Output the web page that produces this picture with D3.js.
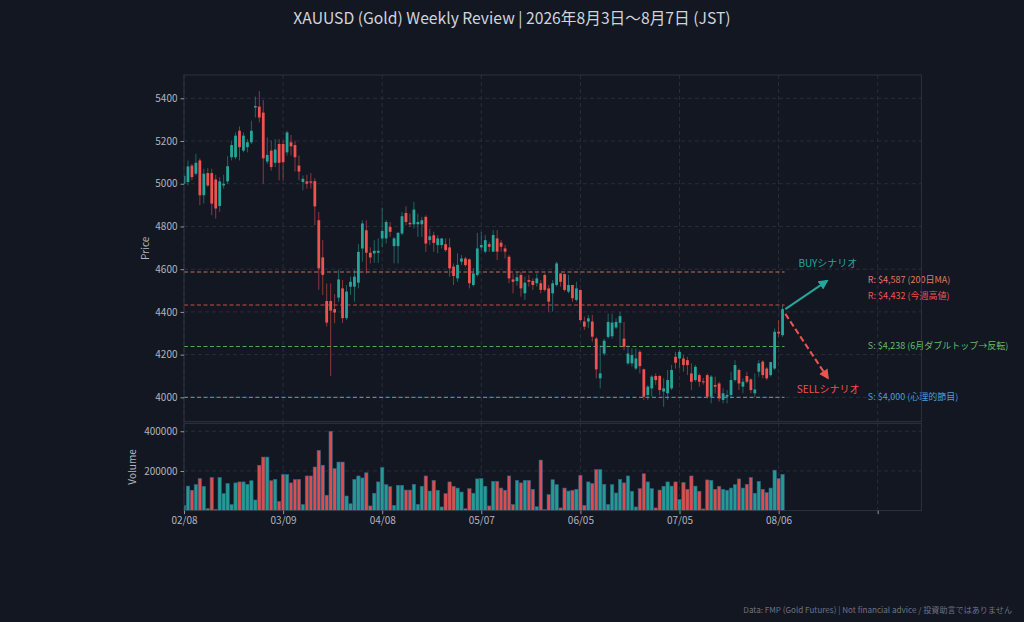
<!DOCTYPE html>
<html>
<head>
<meta charset="utf-8">
<script src="https://cdn.jsdelivr.net/npm/d3@7"></script>
<style>
  html, body { margin: 0; padding: 0; background: #131722; }
  svg text { font-family: "Noto Sans CJK JP", "Noto Sans", sans-serif; }
</style>
</head>
<body>
<div id="chart"></div>
<script>
// daily candles, index 0 = 02/08 ... 151 = 08/07
const opens = [5000,5008,5085,5047,5109,4946,5050,5050,5020,4896,4992,5011,5124,5124,5248,5155,5171,5194,5357,5361,
  5333,5104,5155,5098,5186,5186,5147,5194,5181,5085,5008,5011,5011,5012,4829,4655,4451,4451,4413,4467,
  4510,4371,4518,4518,4537,4697,4782,4677,4674,4677,4744,4744,4798,4708,4708,4767,4863,4817,4810,4810,
  4810,4845,4736,4759,4713,4713,4717,4702,4612,4557,4635,4650,4646,4526,4573,4702,4682,4717,4682,4744,
  4724,4697,4658,4552,4544,4573,4487,4549,4545,4534,4534,4573,4510,4487,4526,4580,4577,4495,4526,4456,
  4503,4355,4355,4355,4275,4089,4205,4283,4286,4327,4349,4275,4159,4159,4135,4213,4131,4011,4042,4100,
  4100,4027,4019,4042,4190,4182,4182,4174,4112,4081,4104,4075,4104,4003,4058,4065,3988,4003,4011,4081,
  4128,4050,4100,4084,4019,4120,4167,4135,4104,4135,4307,4291];
const highs = [5042,5109,5093,5140,5119,5070,5073,5070,5042,5031,5042,5129,5202,5240,5268,5240,5209,5295,5408,5434,
  5392,5217,5202,5209,5209,5202,5248,5228,5202,5132,5039,5042,5050,5026,4868,4736,4533,4533,4484,4596,
  4549,4526,4565,4596,4717,4829,4829,4702,4736,4744,4888,4829,4821,4751,4775,4868,4894,4860,4915,4860,
  4845,4852,4790,4775,4759,4744,4744,4744,4627,4674,4666,4658,4650,4604,4770,4775,4760,4728,4783,4783,
  4736,4713,4666,4580,4588,4588,4565,4573,4557,4580,4549,4580,4526,4549,4635,4580,4580,4573,4526,4541,
  4503,4378,4386,4386,4283,4244,4275,4392,4392,4370,4400,4353,4244,4229,4229,4221,4135,4058,4104,4112,
  4104,4089,4128,4151,4213,4221,4198,4190,4159,4151,4112,4090,4112,4104,4097,4073,4042,4034,4120,4174,
  4135,4089,4120,4089,4112,4174,4174,4143,4167,4322,4361,4432];
const lows = [4995,4992,5016,5039,4899,4907,4985,4853,4837,4868,4977,5000,5109,5115,5109,5147,5147,5186,5310,5287,
  5000,5093,5062,5078,5016,5016,5132,5132,5057,5016,4969,4977,4977,4806,4503,4479,4331,4100,4347,4448,
  4348,4363,4479,4448,4510,4635,4580,4627,4630,4630,4702,4720,4751,4627,4627,4759,4806,4798,4790,4751,
  4751,4681,4713,4681,4674,4697,4681,4565,4526,4541,4619,4611,4510,4518,4565,4689,4674,4682,4682,4643,
  4682,4650,4534,4487,4523,4471,4456,4518,4503,4518,4487,4495,4401,4401,4518,4518,4495,4487,4448,4448,
  4355,4316,4324,4261,4089,4042,4195,4275,4275,4320,4237,4221,4151,4143,4128,4112,3988,3988,4003,4058,
  4011,3956,3988,4034,4135,4135,4120,4104,4034,4073,4050,4060,3995,3972,4019,3980,3972,3972,3995,4073,
  4034,4019,4065,4019,4003,4097,4089,4081,4097,4128,4283,4283];
const closes = [5036,5081,5031,5098,4946,5047,4992,4907,4884,5011,5000,5082,5181,5225,5171,5225,5194,5248,5364,5310,
  5119,5135,5078,5160,5098,5101,5240,5175,5124,5057,5023,5000,5005,4894,4604,4573,4350,4406,4397,4552,
  4371,4495,4541,4565,4681,4814,4677,4655,4686,4686,4779,4821,4775,4744,4770,4848,4821,4810,4879,4821,
  4829,4720,4754,4723,4744,4744,4689,4604,4568,4620,4650,4619,4534,4580,4697,4713,4736,4705,4760,4682,
  4705,4682,4557,4541,4562,4510,4537,4541,4526,4557,4503,4503,4448,4534,4627,4541,4503,4526,4464,4510,
  4362,4331,4370,4284,4131,4112,4265,4353,4350,4353,4380,4237,4205,4198,4182,4146,4003,4050,4097,4081,
  4034,4042,4081,4128,4162,4213,4151,4151,4073,4143,4073,4070,4003,4097,4050,3995,4019,4011,4081,4151,
  4065,4073,4073,4034,4037,4159,4104,4089,4165,4307,4299,4413];
const volumes = [27000,124000,103000,131000,162000,123000,10600,167000,7000,167000,86000,137000,31000,140000,145000,145000,133000,151000,54000,229000,
  270000,270000,151000,158000,47000,182000,182000,140000,157000,158000,31000,175000,175000,220000,304000,229000,78000,400000,212000,245000,
  245000,74000,35000,158000,175000,165000,191000,24000,88000,145000,217000,131000,121000,27000,128000,128000,104000,104000,133000,32000,
  123000,175000,99000,153000,103000,19000,86000,145000,123000,114000,94000,10000,111000,88000,160000,162000,123000,24000,148000,148000,
  114000,103000,175000,31000,153000,140000,153000,153000,108000,20000,255000,6000,81000,156000,131000,14000,114000,99000,103000,108000,
  178000,27000,145000,137000,207000,207000,133000,31000,131000,89000,158000,140000,175000,98000,19000,111000,186000,145000,111000,14000,
  104000,123000,145000,124000,145000,57000,142000,108000,175000,124000,98000,9000,155000,153000,108000,123000,108000,103000,114000,131000,
  160000,114000,133000,167000,88000,148000,108000,91000,114000,204000,162000,183000];

// x axis tick labels every 25 sessions
const tickIdx = [0, 25, 50, 75, 100, 125, 150, 175];
const tickLabels = ["02/08", "03/09", "04/08", "05/07", "06/05", "07/05", "08/06", ""];

const priceTicks = [4000, 4200, 4400, 4600, 4800, 5000, 5200, 5400];
const volumeTicks = [200000, 400000];

// key levels
const levelPrices = [4587, 4432, 4238, 4000];
const levelTexts = ["R: $4,587 (200日MA)", "R: $4,432 (今週高値)", "S: $4,238 (6月ダブルトップ→反転)", "S: $4,000 (心理的節目)"];
const levelColors = ["#e07a5f", "#ef5350", "#66bb6a", "#4a9fd8"];
// labels nudged apart so they don't overlap
const levelLabelAt = [4549, 4474, 4238, 4000];

const title = "XAUUSD (Gold) Weekly Review | 2026年8月3日〜8月7日 (JST)";
const footer = "Data: FMP (Gold Futures) | Not financial advice / 投資助言ではありません";

const UP = "#26a69a", DOWN = "#ef5350";
const BG = "#131722", GRID = "#2e3240", TXT = "#b2b5be";

const N = closes.length;
const candles = d3.range(N).map(i => ({
  i: i, o: opens[i], h: highs[i], l: lows[i], c: closes[i], v: volumes[i]
}));

const W = 1024, H = 622;
const svg = d3.select("#chart").append("svg")
  .attr("width", W).attr("height", H)
  .style("background", BG);

const left = 184, right = 921.3;
const pTop = 75, pBot = 421.7, vTop = 423.3, vBot = 510.7;

const x = d3.scaleLinear().domain([0, 186]).range([left, right]);
const y = d3.scaleLinear().domain([3886, 5509]).range([pBot, pTop]);
const yv = d3.scaleLinear().domain([0, 440000]).range([vBot, vTop]);
const step = x(1) - x(0);

const defs = svg.append("defs");
defs.append("clipPath").attr("id", "clipP").append("rect")
  .attr("x", left).attr("y", pTop).attr("width", right - left).attr("height", pBot - pTop);
defs.append("clipPath").attr("id", "clipV").append("rect")
  .attr("x", left).attr("y", vTop).attr("width", right - left).attr("height", vBot - vTop);

function arrowMarker(id, color) {
  defs.append("marker").attr("id", id)
    .attr("viewBox", "0 0 10 10").attr("refX", 8).attr("refY", 5)
    .attr("markerWidth", 5).attr("markerHeight", 5)
    .attr("orient", "auto-start-reverse")
    .append("path").attr("d", "M0,0 L10,5 L0,10 z").attr("fill", color);
}
arrowMarker("arrUp", UP);
arrowMarker("arrDown", DOWN);

// ---------- grid ----------
function vGrid(top, bot) {
  svg.append("g").selectAll("line").data(tickIdx).enter().append("line")
    .attr("x1", d => x(d)).attr("x2", d => x(d))
    .attr("y1", top).attr("y2", bot)
    .attr("stroke", GRID).attr("stroke-width", 0.8).attr("stroke-dasharray", "4,3");
}
vGrid(pTop, pBot);
vGrid(vTop, vBot);

svg.append("g").selectAll("line").data(priceTicks).enter().append("line")
  .attr("x1", left).attr("x2", right)
  .attr("y1", d => y(d)).attr("y2", d => y(d))
  .attr("stroke", GRID).attr("stroke-width", 0.8).attr("stroke-dasharray", "4,3");

svg.append("g").selectAll("line").data(volumeTicks).enter().append("line")
  .attr("x1", left).attr("x2", right)
  .attr("y1", d => yv(d)).attr("y2", d => yv(d))
  .attr("stroke", GRID).attr("stroke-width", 0.8).attr("stroke-dasharray", "4,3");

// ---------- levels ----------
const lev = svg.append("g").attr("clip-path", "url(#clipP)");
levelPrices.forEach((p, k) => {
  lev.append("line")
    .attr("x1", x(0)).attr("x2", x(N - 0.5))
    .attr("y1", y(p)).attr("y2", y(p))
    .attr("stroke", levelColors[k]).attr("stroke-width", 1.1)
    .attr("stroke-opacity", 0.85).attr("stroke-dasharray", "4,2.5");
  svg.append("text")
    .attr("x", x(N + 20.5)).attr("y", y(levelLabelAt[k]))
    .attr("dominant-baseline", "middle")
    .attr("font-size", 9).attr("fill", levelColors[k])
    .text(levelTexts[k]);
});

// ---------- candles ----------
const cg = svg.append("g").attr("clip-path", "url(#clipP)");
const col = d => d.c >= d.o ? UP : DOWN;

cg.selectAll(".wick").data(candles).enter().append("line")
  .attr("class", "wick")
  .attr("x1", d => x(d.i)).attr("x2", d => x(d.i))
  .attr("y1", d => y(d.h)).attr("y2", d => y(d.l))
  .attr("stroke", col).attr("stroke-opacity", 0.55).attr("stroke-width", 1);

const bw = step * 0.7;
cg.selectAll(".body").data(candles).enter().append("rect")
  .attr("class", "body")
  .attr("x", d => x(d.i) - bw / 2)
  .attr("y", d => y(Math.max(d.o, d.c)))
  .attr("width", bw)
  .attr("height", d => Math.max(1, Math.abs(y(d.o) - y(d.c))))
  .attr("fill", col);

// ---------- volume ----------
const vw = step * 0.85;
svg.append("g").attr("clip-path", "url(#clipV)")
  .selectAll("rect").data(candles).enter().append("rect")
  .attr("x", d => x(d.i) - vw / 2)
  .attr("y", d => yv(d.v))
  .attr("width", vw)
  .attr("height", d => yv(0) - yv(d.v))
  .attr("fill", col).attr("fill-opacity", 0.92)
  .attr("stroke", "#2f5f86").attr("stroke-width", 0.6);

// ---------- scenario arrows ----------
const last = candles[N - 1];
svg.append("line")
  .attr("x1", x(N - 0.3)).attr("y1", y(last.c))
  .attr("x2", x(N + 10.2)).attr("y2", y(4545))
  .attr("stroke", UP).attr("stroke-width", 2)
  .attr("marker-end", "url(#arrUp)");
svg.append("line")
  .attr("x1", x(N - 0.3)).attr("y1", y(last.c - 22))
  .attr("x2", x(N + 10.4)).attr("y2", y(4091))
  .attr("stroke", DOWN).attr("stroke-width", 2).attr("stroke-dasharray", "6,3")
  .attr("marker-end", "url(#arrDown)");

svg.append("text").attr("x", x(N + 3)).attr("y", y(4624))
  .attr("dominant-baseline", "middle").attr("font-size", 10).attr("fill", UP)
  .text("BUYシナリオ");
svg.append("text").attr("x", x(N + 2.6)).attr("y", y(4034))
  .attr("dominant-baseline", "middle").attr("font-size", 10).attr("fill", DOWN)
  .text("SELLシナリオ");

// ---------- frames ----------
[[pTop, pBot], [vTop, vBot]].forEach(([t, b]) => {
  svg.append("rect").attr("x", left).attr("y", t)
    .attr("width", right - left).attr("height", b - t)
    .attr("fill", "none").attr("stroke", "#363a45").attr("stroke-width", 0.8);
});

// ---------- axes ----------
function styleAxis(g) {
  g.select(".domain").remove();
  g.selectAll(".tick line").attr("stroke", TXT).attr("stroke-width", 0.8);
  g.selectAll(".tick text").attr("fill", TXT).attr("font-size", 10)
    .style("font-family", "'Noto Sans CJK JP', 'Noto Sans', sans-serif");
}

svg.append("g").attr("transform", `translate(${left},0)`)
  .call(d3.axisLeft(y).tickValues(priceTicks).tickFormat(d3.format("d")).tickSize(3.5).tickPadding(3))
  .call(styleAxis);

svg.append("g").attr("transform", `translate(${left},0)`)
  .call(d3.axisLeft(yv).tickValues(volumeTicks).tickFormat(d3.format("d")).tickSize(3.5).tickPadding(3))
  .call(styleAxis);

svg.append("g").attr("transform", `translate(0,${vBot})`)
  .call(d3.axisBottom(x).tickValues(tickIdx).tickFormat((d, i) => tickLabels[i]).tickSize(3.5).tickPadding(3))
  .call(styleAxis);

svg.append("text")
  .attr("transform", `translate(149,${(pTop + pBot) / 2}) rotate(-90)`)
  .attr("text-anchor", "middle").attr("font-size", 10).attr("fill", TXT)
  .text("Price");
svg.append("text")
  .attr("transform", `translate(136,${(vTop + vBot) / 2}) rotate(-90)`)
  .attr("text-anchor", "middle").attr("font-size", 10).attr("fill", TXT)
  .text("Volume");

// ---------- title / footer ----------
svg.append("text").attr("x", 512).attr("y", 20)
  .attr("text-anchor", "middle").attr("dominant-baseline", "middle")
  .attr("font-size", 15.7).attr("fill", "#d1d4dc")
  .text(title);

svg.append("text").attr("x", 1012).attr("y", 613)
  .attr("text-anchor", "end").attr("font-size", 8.1).attr("fill", "#6f7380")
  .text(footer);
</script>
</body>
</html>
